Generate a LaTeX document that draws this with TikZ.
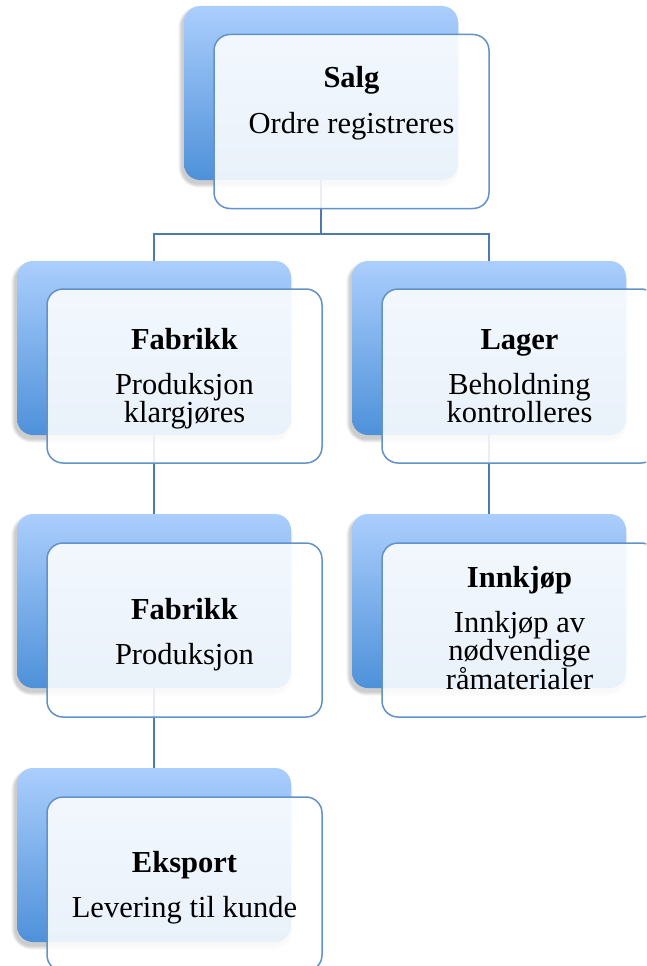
\documentclass[tikz,border=0pt]{standalone}
\usepackage{fontspec}
\setmainfont{Liberation Serif}
\usetikzlibrary{calc}
\pgfdeclarelayer{bg}
\pgfsetlayers{bg,main}

\definecolor{backTop}{RGB}{171,206,253}
\definecolor{backBot}{RGB}{78,145,217}
\definecolor{frameBlue}{RGB}{98,146,199}
\definecolor{lineBlue}{RGB}{78,123,174}

\tikzset{
  x=1pt, y=-1pt,
  backbox/.style={rectangle, rounded corners=16pt, minimum width=274pt,
    minimum height=174pt, inner sep=0pt, top color=backTop, bottom color=backBot,
    draw=none},
  frontbox/.style={rectangle, rounded corners=16pt, minimum width=275pt,
    minimum height=174pt, inner sep=0pt, fill=white, fill opacity=0.88,
    draw=frameBlue, line width=1.5pt},
  conn/.style={draw=lineBlue, line width=1.5pt},
  ttl/.style={font=\fontsize{30.5}{28}\selectfont\bfseries, anchor=base, inner sep=0pt},
  body/.style={font=\fontsize{30.5}{28}\selectfont, align=center, anchor=north, inner sep=0pt},
}

% soft shadow beneath a back card
\newcommand\cardshadow[1]{%
  \foreach \k in {0,...,5}{
    \fill[black, opacity=0.035, rounded corners=16pt+\k pt]
      ($(#1.north west)+(-2-\k*0.7, 4-\k*0.7)$) rectangle
      ($(#1.south east)+(-2+\k*0.7, 4+\k*0.7)$);
  }%
}

\begin{document}
\begin{tikzpicture}
\useasboundingbox (0,0) rectangle (646,966);
\clip (0,0) rectangle (646,966);

% back cards
\node[backbox] (salgB)  at (321,93)  {};
\node[backbox] (fab1B)  at (154,348) {};
\node[backbox] (lagerB) at (489,348) {};
\node[backbox] (fab2B)  at (154,601) {};
\node[backbox] (innkB)  at (489,601) {};
\node[backbox] (ekspB)  at (154,855) {};

\coordinate (bus) at (0,234);

\begin{pgfonlayer}{bg}
  \cardshadow{salgB}
  \cardshadow{fab1B}
  \cardshadow{lagerB}
  \cardshadow{fab2B}
  \cardshadow{innkB}
  \cardshadow{ekspB}
  % connectors
  \draw[conn] (salgB.center) -- (salgB.center |- bus) -| (fab1B.north);
  \draw[conn] (salgB.center |- bus) -| (lagerB.north);
  \draw[conn] (fab1B.center) -- (fab2B.north);
  \draw[conn] (lagerB.center) -- (innkB.north);
  \draw[conn] (fab2B.center) -- (ekspB.north);
\end{pgfonlayer}

% front cards
\node[frontbox] (salgF)  at (351.5,121.5) {};
\node[frontbox] (fab1F)  at (184.5,376)   {};
\node[frontbox] (lagerF) at (519.5,376)   {};
\node[frontbox] (fab2F)  at (184.5,630)   {};
\node[frontbox] (innkF)  at (519.5,630)   {};
\node[frontbox] (ekspF)  at (184.5,884)   {};

% labels
\node[ttl] (salgT) at (351.5,88) {Salg};
\node[body] (salgX) at (351.5,111) {\rule{0pt}{22pt}Ordre registreres};

\node[ttl] (fab1T) at (184.5,349) {Fabrikk};
\node[body] (fab1X) at (184.5,372) {\rule{0pt}{22pt}Produksjon\\klargjøres};

\node[ttl] (lagerT) at (519.5,349) {Lager};
\node[body] (lagerX) at (519.5,372) {\rule{0pt}{22pt}Beholdning\\kontrolleres};

\node[ttl] (fab2T) at (184.5,619) {Fabrikk};
\node[body] (fab2X) at (184.5,642) {\rule{0pt}{22pt}Produksjon};

\node[ttl] (innkT) at (519.5,587) {Innkjøp};
\node[body] (innkX) at (519.5,610) {\rule{0pt}{22pt}Innkjøp av\\nødvendige\\råmaterialer};

\node[ttl] (ekspT) at (184.5,872) {Eksport};
\node[body] (ekspX) at (184.5,895) {\rule{0pt}{22pt}Levering til kunde};
\end{tikzpicture}
\end{document}
